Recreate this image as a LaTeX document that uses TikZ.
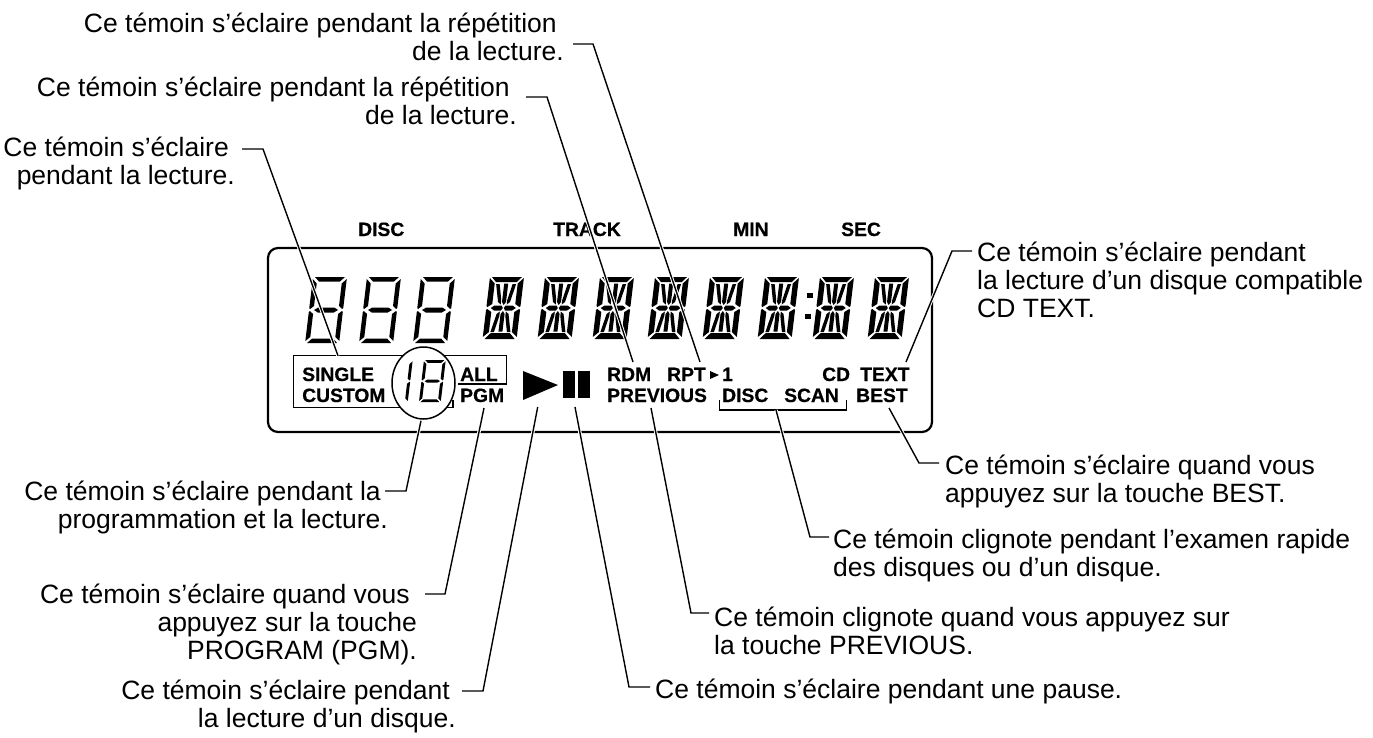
\documentclass[tikz,border=0pt]{standalone}
\usepackage{fontspec}
\setmainfont{Liberation Sans}[BoldFeatures={FakeBold=0.5}]
\usetikzlibrary{positioning,shapes.geometric}

\tikzset{
	sevenseg/.pic={
		\fill (2,0) -- (32,0) -- (27.5,4.5) -- (6.5,4.5) -- cycle;
		\fill (5,33) -- (9,30.5) -- (25,30.5) -- (29,33) -- (25,35.5) -- (9,35.5) -- cycle;
		\fill (2,66) -- (32,66) -- (27.5,61.5) -- (6.5,61.5) -- cycle;
		\fill (0,2) -- (4.5,6.5) -- (4.5,29) -- (1,32) -- (0,31) -- cycle;
		\fill (0,35) -- (1,34) -- (4.5,37) -- (4.5,60) -- (0,64) -- cycle;
		\fill (34,2) -- (29.5,6.5) -- (29.5,29) -- (33,32) -- (34,31) -- cycle;
		\fill (34,35) -- (33,34) -- (29.5,37) -- (29.5,60) -- (34,64) -- cycle;
	},
	onebar/.pic={
		\fill (34,2) -- (29.5,6.5) -- (29.5,29) -- (33,32) -- (34,31) -- cycle;
		\fill (34,35) -- (33,34) -- (29.5,37) -- (29.5,60) -- (34,64) -- cycle;
	},
	fourteenseg/.pic={
		\fill (2,0) -- (32,0) -- (27.5,5) -- (6.5,5) -- cycle;
		\fill (2,62) -- (32,62) -- (26.5,56) -- (7.5,56) -- cycle;
		\fill (0,1) -- (5.5,6.5) -- (5.5,27) -- (1,30) -- (0,29) -- cycle;
		\fill (0,33) -- (1,32) -- (5.5,35) -- (5.5,55) -- (0,60) -- cycle;
		\fill (34,1) -- (28.5,6.5) -- (28.5,27) -- (33,30) -- (34,29) -- cycle;
		\fill (34,33) -- (33,32) -- (28.5,35) -- (28.5,55) -- (34,60) -- cycle;
		\fill (4.5,31) -- (8,28.5) -- (15,28.5) -- (16.5,31) -- (15,33.5) -- (8,33.5) -- cycle;
		\fill (29.5,31) -- (26,28.5) -- (19,28.5) -- (17.5,31) -- (19,33.5) -- (26,33.5) -- cycle;
		\fill (15,6.5) -- (19,6.5) -- (19,25) -- (17,28) -- (15,25) -- cycle;
		\fill (15,54.5) -- (19,54.5) -- (19,37) -- (17,34) -- (15,37) -- cycle;
		\fill (7,7) -- (10.5,7) -- (14,23) -- (14,27.5) -- (11,25) -- cycle;
		\fill (27,7) -- (23.5,7) -- (20,23) -- (20,27.5) -- (23,25) -- cycle;
		\fill (7,55) -- (10.5,55) -- (14,39) -- (14,34.5) -- (11,37) -- cycle;
		\fill (27,55) -- (23.5,55) -- (20,39) -- (20,34.5) -- (23,37) -- cycle;
	},
	lcdtag/.style={font=\bfseries\fontsize{19.3}{20}\selectfont,inner sep=0pt,anchor=base west},
	notetxt/.style={font=\fontsize{26.5}{27.8}\selectfont,inner sep=0pt},
	leader/.style={line width=1.4pt,preaction={draw=white,line width=3.4pt}}
}

\begin{document}
\begin{tikzpicture}[x=1pt,y=-1pt]
	\useasboundingbox (0,0) rectangle (1373,737);

	\draw [line width=2.2pt,rounded corners=10pt] (268,248) rectangle (932,432);

	\pic [xslant=0.12] at (313,277) {sevenseg};
	\pic [xslant=0.12] at (367,277) {sevenseg};
	\pic [xslant=0.12] at (421,277) {sevenseg};
	\foreach \dx in {490,545,600,655,710,765,820,875}
		\pic [xslant=0.12] at (\dx,277) {fourteenseg};
	\fill (807,293) rectangle (813,298);
	\fill (805,314) rectangle (811,319);

	\draw [line width=1.3pt] (453,400) -- (453,407.3) -- (293.5,407.3) -- (293.5,355.7) -- (506.7,355.7) -- (506.7,384) -- (458,384);
	\node [draw,fill=white,line width=1.5pt,ellipse,minimum width=63pt,minimum height=72pt,inner sep=0pt] (circ18) at (423.5,383) {};
	\pic [xslant=0.12,scale=0.64] at (391,360) {onebar};
	\pic [xslant=0.12,scale=0.64] at (424,360) {sevenseg};

	\node [lcdtag] (tagdisc) at (358,236) {DISC};
	\node [lcdtag] (tagtrack) at (553,236) {TRACK};
	\node [lcdtag] (tagmin) at (733,236) {MIN};
	\node [lcdtag] (tagsec) at (841,236) {SEC};
	\node [lcdtag] (tagsingle) at (302,381) {SINGLE};
	\node [lcdtag] (tagcustom) at (302,402) {CUSTOM};
	\node [lcdtag] (tagall) at (460,381) {ALL};
	\node [lcdtag] (tagpgm) at (460,402) {PGM};
	\node [lcdtag] (tagrdm) at (607,381) {RDM};
	\node [lcdtag] (tagrpt) at (667,381) {RPT};
	\node [lcdtag] (tagone) at (722,381) {1};
	\node [lcdtag] (tagprev) at (607,402) {PREVIOUS};
	\node [lcdtag] (tagcd) at (822,381) {CD};
	\node [lcdtag] (tagtext) at (860,381) {TEXT};
	\node [lcdtag] (tagscandisc) at (722,402) {DISC};
	\node [lcdtag] (tagscan) at (784,402) {SCAN};
	\node [lcdtag] (tagbest) at (856,402) {BEST};

	\fill (710,371) -- (719,375) -- (710,379) -- cycle;
	\fill (523,371) -- (558,385) -- (523,400) -- cycle;
	\fill (563,371) rectangle (575,398);
	\fill (578,371) rectangle (590,398);
	\draw [line width=1.3pt] (719.3,400) -- (719.3,410) -- (846.7,410) -- (846.7,400);

	\node [notetxt,align=right,anchor=base east] (noterpt) at (564,60) {Ce témoin s’éclaire pendant la répétition\hspace*{7pt}\\de la lecture.};
	\node [notetxt,align=right,anchor=base east] (noterdm) at (517,124) {Ce témoin s’éclaire pendant la répétition\hspace*{7pt}\\de la lecture.};
	\node [notetxt,align=right,anchor=base east] (noteplay) at (235,184) {Ce témoin s’éclaire\hspace*{6pt}\\pendant la lecture.};
	\node [notetxt,align=right,anchor=base east] (noteprog) at (388,528) {Ce témoin s’éclaire pendant la\hspace*{7pt}\\programmation et la lecture.};
	\node [notetxt,align=right,anchor=base east] (notepgm) at (417,659) {Ce témoin s’éclaire quand vous\hspace*{7pt}\\appuyez sur la touche\hspace*{7pt}\\PROGRAM (PGM).};
	\node [notetxt,align=right,anchor=base east] (notedisc) at (456,727) {Ce témoin s’éclaire pendant\hspace*{6pt}\\la lecture d’un disque.};
	\node [notetxt,align=left,anchor=base west] (notepause) at (655,698) {Ce témoin s’éclaire pendant une pause.};
	\node [notetxt,align=left,anchor=base west] (noteprev) at (714,654) {Ce témoin clignote quand vous appuyez sur\\la touche PREVIOUS.};
	\node [notetxt,align=left,anchor=base west] (notescan) at (833,576) {Ce témoin clignote pendant l’examen rapide\\des disques ou d’un disque.};
	\node [notetxt,align=left,anchor=base west] (notebest) at (945,502) {Ce témoin s’éclaire quand vous\\appuyez sur la touche BEST.};
	\node [notetxt,align=left,anchor=base west] (notetext) at (977,317) {Ce témoin s’éclaire pendant\\la lecture d’un disque compatible\\CD TEXT.};

	\coordinate (hookrpt) at (573,44);
	\coordinate (tiprpt) at (700,362);
	\coordinate (hookrdm) at (526,97);
	\coordinate (tiprdm) at (633,362);
	\coordinate (hookplay) at (242,149);
	\coordinate (tipplay) at (338,355.7);
	\coordinate (hookprog) at (385,491);
	\coordinate (tipprog) at (421,420.7);
	\coordinate (hookpgm) at (425,594);
	\coordinate (tippgm) at (484,408);
	\coordinate (hookdisc) at (462,691);
	\coordinate (tipdisc) at (537.7,407);
	\coordinate (hookpause) at (650,687);
	\coordinate (tippause) at (575,407);
	\coordinate (hookprev) at (709,613);
	\coordinate (tipprev) at (651,408);
	\coordinate (hookscan) at (829,537);
	\coordinate (tipscan) at (776,410);
	\coordinate (hookbest) at (939,463);
	\coordinate (tipbest) at (889,408);
	\coordinate (hooktext) at (972,251);
	\coordinate (tiptext) at (906,362);

	\draw [leader] (hookrpt) -- ++(20,0) -- (tiprpt);
	\draw [leader] (hookrdm) -- ++(21,0) -- (tiprdm);
	\draw [leader] (hookplay) -- ++(21,0) -- (tipplay);
	\draw [leader] (hookprog) -- ++(21,0) -- (tipprog);
	\draw [leader] (hookpgm) -- ++(20,0) -- (tippgm);
	\draw [leader] (hookdisc) -- ++(21,0) -- (tipdisc);
	\draw [leader] (hookpause) -- ++(-21,0) -- (tippause);
	\draw [leader] (hookprev) -- ++(-18,0) -- (tipprev);
	\draw [leader] (hookscan) -- ++(-19,0) -- (tipscan);
	\draw [leader] (hookbest) -- ++(-20,0) -- (tipbest);
	\draw [leader] (hooktext) -- ++(-20,0) -- (tiptext);
\end{tikzpicture}
\end{document}
